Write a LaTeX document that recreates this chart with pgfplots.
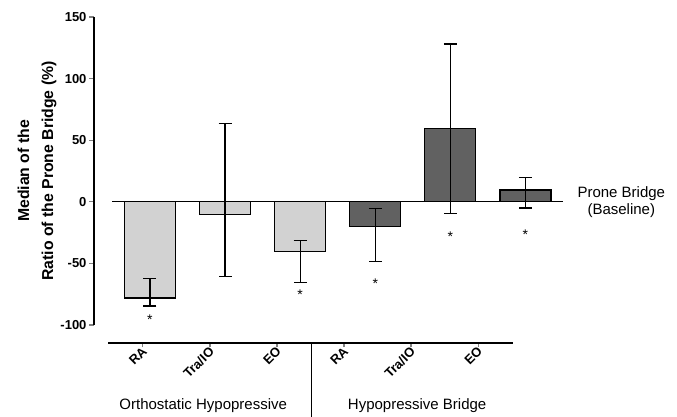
\documentclass[border=0pt]{standalone}
\usepackage{fontspec}
\setmainfont{Liberation Sans}
\usepackage{pgfplots}
\pgfplotsset{compat=1.18}
\definecolor{lightbar}{HTML}{D2D2D2}
\definecolor{darkbar}{HTML}{616161}
\tikzset{sigstar/.style={font=\fontsize{14}{14}\selectfont, yshift=-2pt}}
\begin{document}
\begin{tikzpicture}
\useasboundingbox (0,0) rectangle (677pt,-416pt);
% main axis: bars, y axis
\begin{axis}[
  at={(94pt,-325pt)}, anchor=south west,
  width=469pt, height=308pt, scale only axis,
  xmin=0.255, xmax=6.5, ymin=-100, ymax=150,
  axis x line=none, axis y line*=left,
  ytick={-100,-50,0,50,100,150},
  tick align=outside, major tick length=5pt,
  y axis line style={line width=1.6pt},
  ytick style={line width=1.3pt},
  yticklabel style={font=\bfseries\fontsize{13}{15}\selectfont, xshift=1pt},
  /pgf/number format/assume math mode=true,
  ylabel={Median of the\\Ratio of the Prone Bridge (\%)},
  ylabel style={align=center, font=\bfseries\fontsize{15.8}{24}\selectfont, yshift=-3pt},
  ybar, bar width=51pt, bar shift=0pt,
  clip=false,
  error bars/error bar style={line width=1.3pt, black},
  error bars/error mark options={rotate=90, mark size=6.5pt, line width=1.3pt, black},
]
\addplot[fill=lightbar, draw=black, line width=1.2pt,
  error bars/.cd, y dir=both, y explicit]
  coordinates {(1,-78) +=(0,16) -=(0,6.5)
               (2,-10.5) +=(0,74) -=(0,50)
               (3,-40.3) +=(0,9) -=(0,25)};
\addplot[fill=darkbar, draw=black, line width=1.2pt,
  error bars/.cd, y dir=both, y explicit]
  coordinates {(4,-20) +=(0,14.3) -=(0,28.7)
               (5,59.6) +=(0,68.4) -=(0,69)
               (6,9.6) +=(0,10) -=(0,14.6)};
\addplot[sharp plot, black, line width=1.3pt, forget plot] coordinates {(0.5,0) (6.5,0)};
\node[font=\fontsize{15}{17}\selectfont, align=center, anchor=west, xshift=11pt]
  at (axis cs:6.5,0) {Prone Bridge\\(Baseline)};
\node[sigstar] at (axis cs:1,-94) {*};
\node[sigstar] at (axis cs:3,-74) {*};
\node[sigstar] at (axis cs:4,-65) {*};
\node[sigstar] at (axis cs:5,-27) {*};
\node[sigstar] at (axis cs:6,-25) {*};
\end{axis}
% lower category axis
\begin{axis}[
  at={(108pt,-343pt)}, anchor=south west,
  width=405pt, height=10pt, scale only axis,
  xmin=-0.52, xmax=5.52, ymin=0, ymax=1,
  axis y line=none, axis x line*=bottom,
  x axis line style={line width=1.2pt},
  xtick={0,...,5},
  xticklabels={RA,Tra/IO,EO,RA,Tra/IO,EO},
  tick align=outside, major tick length=4pt,
  xtick style={line width=1.2pt},
  xticklabel style={rotate=45, anchor=east, font=\bfseries\fontsize{13}{15}\selectfont, xshift=3pt, yshift=-3pt},
  clip=false,
]
\draw[line width=0.8pt] (axis cs:2.52,0) -- ([yshift=-75pt]axis cs:2.52,0);
\node[font=\fontsize{15}{18}\selectfont] at ([yshift=-63pt]axis cs:0.9,0) {Orthostatic Hypopressive};
\node[font=\fontsize{15}{18}\selectfont] at ([yshift=-63pt]axis cs:4.09,0) {Hypopressive Bridge};
\end{axis}
\end{tikzpicture}
\end{document}
